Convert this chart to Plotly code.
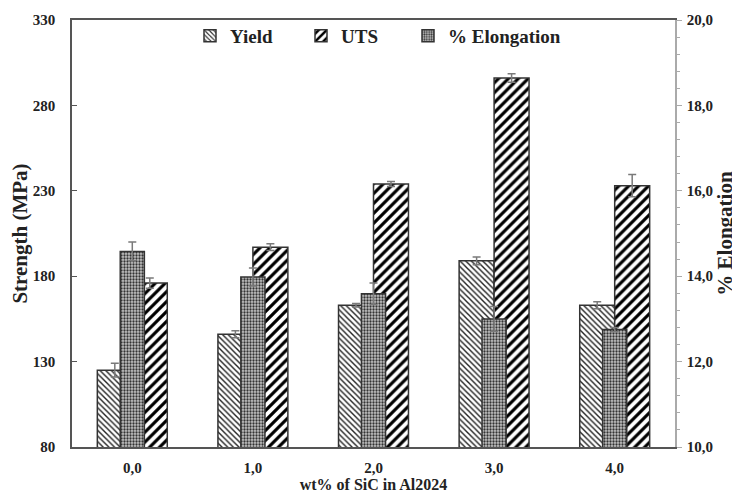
import plotly.graph_objects as go

categories = ["0,0", "1,0", "2,0", "3,0", "4,0"]
yield_vals = [125, 146, 163, 189, 163]
yield_err = [4, 2, 1, 2.3, 2]
uts_vals = [176, 197, 234, 296, 233]
uts_err = [3, 2, 1.5, 2.5, 6.5]
elong_vals = [14.58, 13.98, 13.59, 13.0, 12.75]
elong_err = [0.22, 0.21, 0.25, 0.29, 0.05]

FONT = "Liberation Serif"
LINE = "#333333"
ERR = "#7a7a7a"
TXT = "#222222"

fig = go.Figure()

fig.add_trace(go.Bar(
    x=categories, y=yield_vals, name="Yield", yaxis="y", legend="legend",
    width=0.29, offset=-0.29,
    marker=dict(color="white", line=dict(color=LINE, width=1.5),
                pattern=dict(shape="\\", size=4, solidity=0.35, fgcolor="#222222",
                             bgcolor="white", fgopacity=1)),
    error_y=dict(type="data", array=yield_err, color=ERR, thickness=1.5, width=4),
))
fig.add_trace(go.Bar(
    x=categories, y=uts_vals, name="UTS", yaxis="y", legend="legend2",
    width=0.29, offset=0.0,
    marker=dict(color="white", line=dict(color=LINE, width=1.5),
                pattern=dict(shape="/", size=7, solidity=0.45, fgcolor="#000000",
                             bgcolor="white", fgopacity=1)),
    error_y=dict(type="data", array=uts_err, color=ERR, thickness=1.5, width=4),
))
fig.add_trace(go.Bar(
    x=categories, y=elong_vals, name="% Elongation", yaxis="y2", legend="legend3",
    width=0.2, offset=-0.1,
    marker=dict(color="white", line=dict(color=LINE, width=1.5),
                pattern=dict(shape=".", size=3, solidity=0.45, fgcolor="#333333",
                             bgcolor="#c4c4c4", fgopacity=1)),
    error_y=dict(type="data", array=elong_err, color=ERR, thickness=1.5, width=4),
))


def legend_at(px):
    return dict(orientation="h", x=(px - 64) / 603, xanchor="left",
                y=1 - 16 / 430, yanchor="middle",
                font=dict(family=FONT, size=19, color=TXT, weight="bold"),
                bgcolor="rgba(0,0,0,0)", itemwidth=30)


# page body has an 8px margin, so the figure is 8px smaller and offset by 8px
fig.update_layout(
    width=732, height=485,
    margin=dict(l=64, r=65, t=9, b=46),
    paper_bgcolor="white", plot_bgcolor="white",
    barmode="overlay",
    separators=",.",
    font=dict(family=FONT, size=14, color=TXT),
    showlegend=True,
    legend=legend_at(182),
    legend2=legend_at(293),
    legend3=legend_at(400),
    xaxis=dict(type="category", range=[-0.5, 4.5], showline=True, linecolor="#555555",
               linewidth=1.5, mirror=True, ticks="", showgrid=False, automargin=False,
               ticklabelstandoff=6,
               tickfont=dict(family=FONT, size=15, weight="bold", color=TXT),
               title=dict(text="wt% of SiC in Al2024", standoff=4,
                          font=dict(family=FONT, size=16, weight="bold", color=TXT))),
    yaxis=dict(range=[80, 330], dtick=50, tick0=80, showline=True, linecolor="#555555",
               linewidth=1.5, ticks="inside", ticklen=5, tickcolor="#555555", showgrid=False,
               zeroline=False, automargin=False, ticklabelstandoff=12,
               tickfont=dict(family=FONT, size=15, weight="bold", color=TXT),
               title=dict(text="Strength (MPa)", standoff=4,
                          font=dict(family=FONT, size=21, weight="bold", color=TXT))),
    yaxis2=dict(range=[10, 20], dtick=2, tick0=10, overlaying="y", side="right",
                showline=True, linecolor="#aaaaaa", linewidth=1.5, ticks="outside",
                ticklen=5, tickcolor="#aaaaaa", showgrid=False, zeroline=False,
                tickformat=".1f", automargin=False, ticklabelstandoff=2,
                minor=dict(dtick=0.4, ticks="outside", ticklen=3, tickcolor="#aaaaaa"),
                tickfont=dict(family=FONT, size=15, weight="bold", color=TXT),
                title=dict(text="% Elongation", standoff=2,
                           font=dict(family=FONT, size=21, weight="bold", color=TXT))),
)

fig.write_html("out.html")
